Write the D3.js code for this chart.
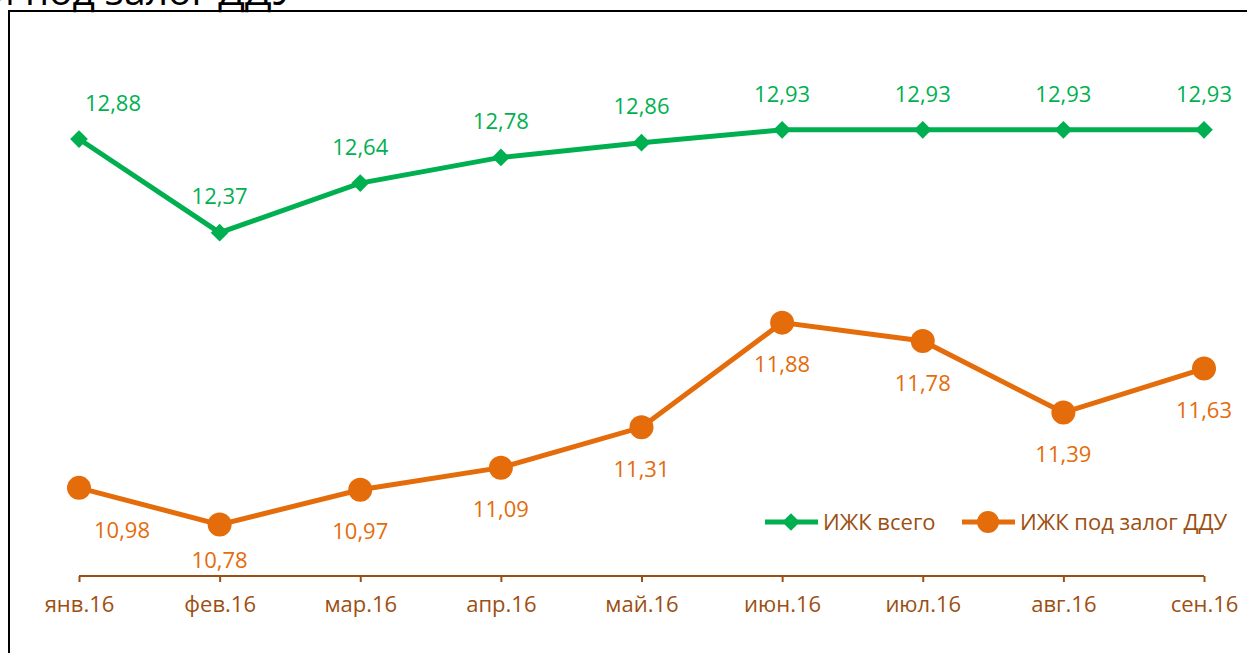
<!DOCTYPE html>
<html>
<head>
<meta charset="utf-8">
<script src="https://cdn.jsdelivr.net/npm/d3@7"></script>
<style>
  body { margin: 0; background: #fff; overflow: hidden; }
  text { font-family: "Open Sans", "Noto Sans", sans-serif; }
</style>
</head>
<body>
<div id="chart"></div>
<script>
var months = ["янв.16", "фев.16", "мар.16", "апр.16", "май.16", "июн.16", "июл.16", "авг.16", "сен.16"];
var ijkTotal = [12.88, 12.37, 12.64, 12.78, 12.86, 12.93, 12.93, 12.93, 12.93];
var ijkDdu = [10.98, 10.78, 10.97, 11.09, 11.31, 11.88, 11.78, 11.39, 11.63];
var seriesNames = ["ИЖК всего", "ИЖК под залог ДДУ"];

var svgWidth = 1247;
var svgHeight = 653;
var green = "#00B050";
var orange = "#E46C0A";
var brown = "#9C4F12";
var fs = 22;

var svg = d3.select("#chart")
        .append("svg")
        .attr("width", svgWidth)
        .attr("height", svgHeight);

// cut-off title and frame
svg.append("text")
        .attr("x", -10)
        .attr("y", 5)
        .attr("font-size", 39)
        .attr("fill", "#000")
        .text("и под залог ДДУ");

svg.append("rect")
        .attr("x", 9)
        .attr("y", 11)
        .attr("width", 1260)
        .attr("height", 660)
        .attr("fill", "none")
        .attr("stroke", "#000")
        .attr("stroke-width", 2);

var xScale = d3.scalePoint()
        .domain(months)
        .range([79, 1204]);

var yScale = d3.scaleLinear()
        .domain([10.5, 13.0])
        .range([576, 117]);

// x axis
var xAxis = d3.axisBottom(xScale).tickSize(6).tickPadding(14);
var gx = svg.append("g")
        .attr("transform", "translate(0," + 576 + ")")
        .call(xAxis);
gx.select(".domain").attr("stroke", brown).attr("stroke-width", 2)
        .attr("d", "M" + xScale(months[0]) + ",0H" + xScale(months[months.length - 1]));
gx.selectAll(".tick line").attr("stroke", brown).attr("stroke-width", 2);
gx.selectAll(".tick text")
        .attr("fill", brown)
        .attr("font-size", fs)
        .attr("font-family", "'Open Sans', sans-serif");

var line = d3.line()
        .x(function (d, i) { return xScale(months[i]); })
        .y(function (d) { return yScale(d); });

var fmt = function (v) { return d3.format(".2f")(v).replace(".", ","); };
var diamond = d3.symbol().type(d3.symbolDiamond2).size(200);

// green series
svg.append("path")
        .datum(ijkTotal)
        .attr("d", line)
        .attr("fill", "none")
        .attr("stroke", green)
        .attr("stroke-width", 5);

svg.selectAll(".diamond")
        .data(ijkTotal)
        .enter()
        .append("path")
        .attr("d", diamond)
        .attr("fill", green)
        .attr("transform", function (d, i) { return "translate(" + xScale(months[i]) + "," + yScale(d) + ")"; });

svg.selectAll(".glabel")
        .data(ijkTotal)
        .enter()
        .append("text")
        .attr("x", function (d, i) { return xScale(months[i]) + (i === 0 ? 34 : 0); })
        .attr("y", function (d) { return yScale(d) - 36; })
        .attr("dy", "0.35em")
        .attr("text-anchor", "middle")
        .attr("font-size", fs)
        .attr("fill", green)
        .text(fmt);

// orange series
svg.append("path")
        .datum(ijkDdu)
        .attr("d", line)
        .attr("fill", "none")
        .attr("stroke", orange)
        .attr("stroke-width", 5);

svg.selectAll(".dot")
        .data(ijkDdu)
        .enter()
        .append("circle")
        .attr("r", 12)
        .attr("fill", orange)
        .attr("cx", function (d, i) { return xScale(months[i]); })
        .attr("cy", function (d) { return yScale(d); });

svg.selectAll(".olabel")
        .data(ijkDdu)
        .enter()
        .append("text")
        .attr("x", function (d, i) { return xScale(months[i]) + (i === 0 ? 43 : 0); })
        .attr("y", function (d, i) { return yScale(d) + (i === 1 ? 36 : 42); })
        .attr("dy", "0.35em")
        .attr("text-anchor", "middle")
        .attr("font-size", fs)
        .attr("fill", orange)
        .text(fmt);

// legend
var legend = svg.append("g").attr("transform", "translate(765,522)");
legend.append("line").attr("x1", 0).attr("x2", 53).attr("stroke", green).attr("stroke-width", 5);
legend.append("path")
        .attr("d", diamond)
        .attr("fill", green)
        .attr("transform", "translate(26,0)");
legend.append("text").attr("x", 58).attr("dy", "0.35em")
        .attr("font-size", fs).attr("fill", brown).text(seriesNames[0]);

legend.append("line").attr("x1", 197).attr("x2", 250).attr("stroke", orange).attr("stroke-width", 5);
legend.append("circle").attr("cx", 223).attr("r", 11).attr("fill", orange);
legend.append("text").attr("x", 255).attr("dy", "0.35em")
        .attr("font-size", fs).attr("fill", brown).text(seriesNames[1]);
</script>
</body>
</html>
